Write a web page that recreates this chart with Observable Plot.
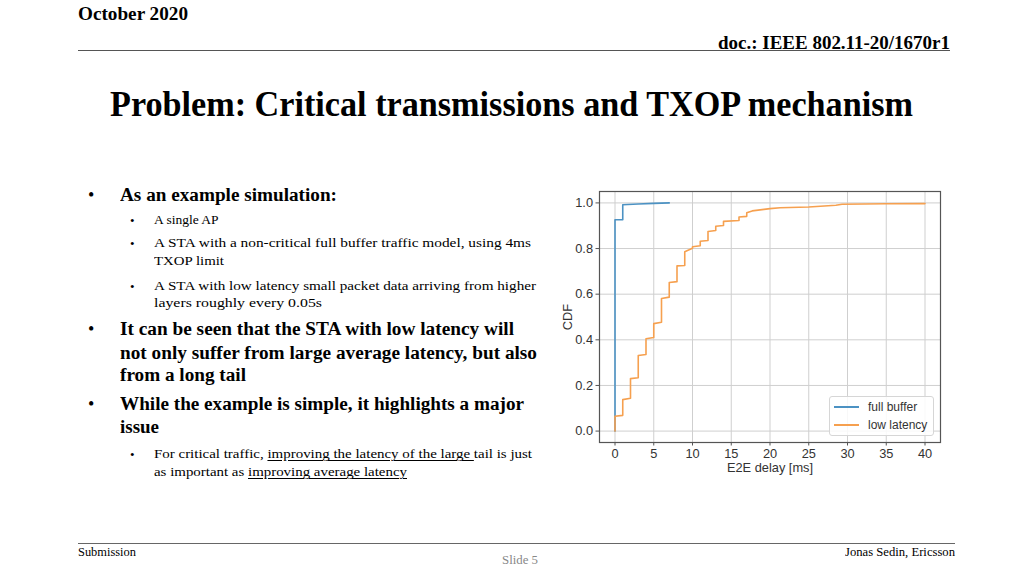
<!DOCTYPE html>
<html><head><meta charset="utf-8">
<script src="https://cdn.jsdelivr.net/npm/d3@7"></script>
<script src="https://cdn.jsdelivr.net/npm/@observablehq/plot@0.6"></script>
<style>
html,body{margin:0;padding:0;background:#fff;}
body{width:1024px;height:576px;position:relative;overflow:hidden;font-family:"Liberation Serif","Times New Roman",serif;color:#000;}
.t{position:absolute;white-space:nowrap;line-height:1;transform-origin:0 50%;}
.b{font-weight:bold;}
.hr{position:absolute;height:0;}
#chart{position:absolute;left:555px;top:185px;}
#legend{position:absolute;left:829px;top:396px;width:103px;height:38px;border:1px solid #d6d6d6;border-radius:3px;background:rgba(255,255,255,0.85);font-family:"Liberation Sans",Arial,sans-serif;font-size:12px;color:#333;}
#legend .row{position:absolute;left:0;height:14px;line-height:14px;}
#legend .sw{position:absolute;left:4px;top:6px;width:25px;height:1.6px;}
#legend .lb{position:absolute;left:38px;top:0;white-space:nowrap;}
u{text-decoration-thickness:1px;text-underline-offset:2px;}
</style></head>
<body>
<div class="t b" data-x="78" data-y="13" data-w="110" style="font-size:19px">October 2020</div>
<div class="t b" data-r="950" data-y="42" data-w="232" style="font-size:19px">doc.: IEEE 802.11-20/1670r1</div>
<div class="hr" style="left:78px;top:50px;width:872px;border-top:1.5px solid #555"></div>

<div class="t b" data-x="110" data-y="104" data-w="803" style="font-size:35px">Problem: Critical transmissions and TXOP mechanism</div>

<div class="t" data-x="88" data-y="195" style="font-size:18px">•</div>
<div class="t b" data-x="120" data-y="195" data-w="217" style="font-size:18px">As an example simulation:</div>
<div class="t" data-x="130" data-y="220" style="font-size:13px">•</div>
<div class="t" data-x="154" data-y="220" style="font-size:13.5px">A single AP</div>
<div class="t" data-x="130" data-y="243" style="font-size:13px">•</div>
<div class="t" data-x="154" data-y="243" data-w="377" style="font-size:13.5px">A STA with a non-critical full buffer traffic model, using 4ms</div>
<div class="t" data-x="154" data-y="261" data-w="70" style="font-size:13.5px">TXOP limit</div>
<div class="t" data-x="130" data-y="286" style="font-size:13px">•</div>
<div class="t" data-x="154" data-y="286" data-w="382" style="font-size:13.5px">A STA with low latency small packet data arriving from higher</div>
<div class="t" data-x="154" data-y="303" data-w="168" style="font-size:13.5px">layers roughly every 0.05s</div>

<div class="t" data-x="88" data-y="329" style="font-size:18px">•</div>
<div class="t b" data-x="120" data-y="329" data-w="394" style="font-size:18px">It can be seen that the STA with low latency will</div>
<div class="t b" data-x="120" data-y="353" data-w="417" style="font-size:18px">not only suffer from large average latency, but also</div>
<div class="t b" data-x="120" data-y="375" data-w="126" style="font-size:18px">from a long tail</div>
<div class="t" data-x="88" data-y="404" style="font-size:18px">•</div>
<div class="t b" data-x="120" data-y="404" data-w="404" style="font-size:18px">While the example is simple, it highlights a major</div>
<div class="t b" data-x="120" data-y="427" data-w="39" style="font-size:18px">issue</div>
<div class="t" data-x="130" data-y="454" style="font-size:13px">•</div>
<div class="t" data-x="154" data-y="454" data-w="378" style="font-size:13.5px">For critical traffic, <u>improving the latency of the large </u>tail is just</div>
<div class="t" data-x="154" data-y="472" data-w="253" style="font-size:13.5px">as important as <u>improving average latency</u></div>

<div class="hr" style="left:78px;top:543px;width:877px;border-top:1.5px solid #666"></div>
<div class="t" data-x="78" data-y="552" data-w="58" style="font-size:12px">Submission</div>
<div class="t" data-c="520" data-y="560" data-w="36" style="font-size:12px;color:#888">Slide 5</div>
<div class="t" data-r="955" data-y="552" data-w="110" style="font-size:12px">Jonas Sedin, Ericsson</div>

<div id="chart"></div>
<div id="legend"></div>

<script>
// ---- data ----
const seriesNames = ["full buffer", "low latency"];
const seriesColors = ["#4c92c3", "#f6a04f"];
const xTicks = [0, 5, 10, 15, 20, 25, 30, 35, 40];
const yTicks = [0.0, 0.2, 0.4, 0.6, 0.8, 1.0];

const fullDelay = [0, 0, 1, 1, 3, 5, 7];
const fullCdf   = [0.0, 0.926, 0.926, 0.992, 0.995, 0.998, 1.0];

const lowDelay = [0, 0, 1, 1, 2, 2, 3, 3, 4, 4, 5, 5, 6, 6, 7, 7, 8, 8, 9, 9, 10, 10, 11, 11, 12, 12, 13, 13, 14, 14, 16, 16, 17, 17, 17.7, 20, 21.3, 25, 28.5, 29.3, 35, 40];
const lowCdf   = [0.0, 0.065, 0.069, 0.138, 0.144, 0.230, 0.234, 0.331, 0.336, 0.405, 0.410, 0.471, 0.477, 0.581, 0.587, 0.651, 0.655, 0.724, 0.726, 0.786, 0.801, 0.808, 0.812, 0.832, 0.835, 0.875, 0.879, 0.898, 0.901, 0.919, 0.923, 0.938, 0.941, 0.957, 0.965, 0.975, 0.979, 0.982, 0.990, 0.994, 0.996, 0.997];

const fullData = fullDelay.map((d, i) => ({delay: d, cdf: fullCdf[i], series: seriesNames[0]}));
const lowData = lowDelay.map((d, i) => ({delay: d, cdf: lowCdf[i], series: seriesNames[1]}));

const chart = Plot.plot({
  width: 400, height: 300,
  marginLeft: 44, marginRight: 15, marginTop: 6, marginBottom: 43,
  style: {fontFamily: "'Liberation Sans', Arial, sans-serif", fontSize: "12.5px", color: "#333", background: "transparent"},
  x: {domain: [-2, 42]},
  y: {domain: [-0.05, 1.05]},
  marks: [
    Plot.gridX(xTicks, {stroke: "#cfcfcf", strokeOpacity: 1, strokeWidth: 1}),
    Plot.gridY(yTicks, {stroke: "#cfcfcf", strokeOpacity: 1, strokeWidth: 1}),
    Plot.axisX(xTicks, {tickSize: 3.5, tickPadding: 3, stroke: "#555", fill: "#333", fontSize: 12.8,
      label: "E2E delay [ms]", labelAnchor: "center", labelOffset: 29, labelArrow: "none"}),
    Plot.axisY(yTicks, {tickSize: 3.5, tickPadding: 3, stroke: "#555", fill: "#333", fontSize: 12.8, tickFormat: d3.format(".1f"),
      label: "CDF", labelAnchor: "center", labelOffset: 37, labelArrow: "none"}),
    Plot.line(fullData, {x: "delay", y: "cdf", stroke: seriesColors[0], strokeWidth: 1.6}),
    Plot.line(lowData, {x: "delay", y: "cdf", stroke: seriesColors[1], strokeWidth: 1.6}),
    Plot.frame({stroke: "#555", strokeWidth: 1.2})
  ]
});
document.getElementById("chart").appendChild(chart);

// legend built from the series arrays
const legend = document.getElementById("legend");
seriesNames.forEach((name, i) => {
  const row = document.createElement("div");
  row.className = "row";
  row.style.top = (3 + i * 18) + "px";
  const sw = document.createElement("div");
  sw.className = "sw";
  sw.style.background = seriesColors[i];
  const lb = document.createElement("div");
  lb.className = "lb";
  lb.textContent = name;
  row.appendChild(sw); row.appendChild(lb);
  legend.appendChild(row);
});

// ---- slide text layout ----
document.querySelectorAll(".t").forEach(el => {
  const r = el.getBoundingClientRect();
  const w = r.width, h = r.height;
  const target = el.dataset.w ? +el.dataset.w : w;
  const s = target / w;
  let left;
  if (el.dataset.x) left = +el.dataset.x;
  else if (el.dataset.r) left = +el.dataset.r - target;
  else left = +el.dataset.c - target / 2;
  el.style.left = left + "px";
  el.style.top = (+el.dataset.y - h / 2) + "px";
  el.style.transform = `scaleX(${s})`;
});
</script>
</body></html>
